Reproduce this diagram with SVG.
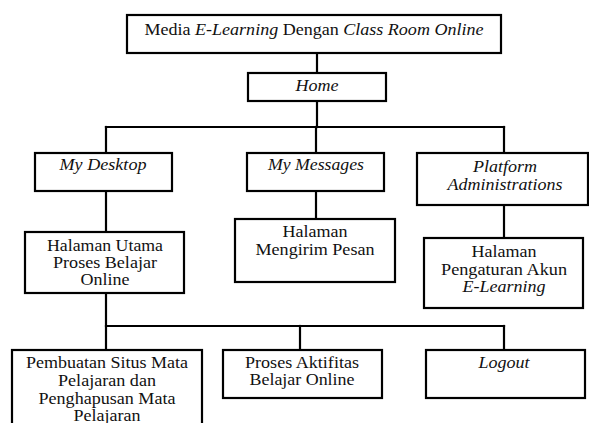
<svg xmlns="http://www.w3.org/2000/svg" width="589" height="423" viewBox="0 0 589 423">
<style>
rect.box{fill:#fff;stroke:#000;stroke-width:2.2}
.conn line{stroke:#000;stroke-width:2.2;stroke-linecap:square}
text{font-family:"Liberation Serif","Times New Roman",serif;font-size:16px;fill:#111;text-anchor:middle}
.i{font-style:italic}
</style>
<rect width="589" height="423" fill="#fff"/>
<g class="conn" id="connectors">
<line x1="317" y1="53" x2="317" y2="73"/>
<line x1="317" y1="101" x2="317" y2="127"/>
<line x1="106" y1="127" x2="504" y2="127"/>
<line x1="106" y1="127" x2="106" y2="153"/>
<line x1="316" y1="127" x2="316" y2="153"/>
<line x1="504" y1="127" x2="504" y2="153"/>
<line x1="106" y1="191" x2="106" y2="232"/>
<line x1="316" y1="191" x2="316" y2="219"/>
<line x1="504" y1="205" x2="504" y2="238"/>
<line x1="106" y1="293" x2="106" y2="350"/>
<line x1="106" y1="326" x2="504" y2="326"/>
<line x1="300" y1="326" x2="300" y2="350"/>
<line x1="504" y1="326" x2="504" y2="350"/>
</g>
<g id="title">
<rect class="box" x="127" y="15" width="374" height="38"/>
<text x="314" y="35" textLength="339" lengthAdjust="spacingAndGlyphs">Media <tspan class="i">E-Learning</tspan> Dengan <tspan class="i">Class Room Online</tspan></text>
</g>
<g id="home">
<rect class="box" x="248" y="73" width="138" height="28"/>
<text class="i" x="317" y="91" textLength="43" lengthAdjust="spacingAndGlyphs">Home</text>
</g>
<g id="my-desktop">
<rect class="box" x="35" y="153" width="137" height="38"/>
<text class="i" x="103" y="170" textLength="87" lengthAdjust="spacingAndGlyphs">My Desktop</text>
</g>
<g id="my-messages">
<rect class="box" x="247" y="153" width="137" height="38"/>
<text class="i" x="316" y="170" textLength="96" lengthAdjust="spacingAndGlyphs">My Messages</text>
</g>
<g id="platform">
<rect class="box" x="417" y="153" width="171" height="52"/>
<text class="i" x="505" y="172" textLength="64" lengthAdjust="spacingAndGlyphs">Platform</text>
<text class="i" x="505" y="190" textLength="115" lengthAdjust="spacingAndGlyphs">Administrations</text>
</g>
<g id="halaman-utama">
<rect class="box" x="25" y="232" width="159" height="61"/>
<text x="105" y="251" textLength="116" lengthAdjust="spacingAndGlyphs">Halaman Utama</text>
<text x="105" y="268" textLength="104" lengthAdjust="spacingAndGlyphs">Proses Belajar</text>
<text x="105" y="285" textLength="49" lengthAdjust="spacingAndGlyphs">Online</text>
</g>
<g id="halaman-mengirim">
<rect class="box" x="235" y="219" width="160" height="63"/>
<text x="315" y="237" textLength="65" lengthAdjust="spacingAndGlyphs">Halaman</text>
<text x="315" y="255" textLength="119" lengthAdjust="spacingAndGlyphs">Mengirim Pesan</text>
</g>
<g id="halaman-pengaturan">
<rect class="box" x="424" y="238" width="159" height="70"/>
<text x="504" y="257" textLength="65" lengthAdjust="spacingAndGlyphs">Halaman</text>
<text x="504" y="275" textLength="126" lengthAdjust="spacingAndGlyphs">Pengaturan Akun</text>
<text class="i" x="504" y="292" textLength="83" lengthAdjust="spacingAndGlyphs">E-Learning</text>
</g>
<g id="pembuatan">
<rect class="box" x="12" y="350" width="190" height="85"/>
<text x="107" y="368" textLength="162" lengthAdjust="spacingAndGlyphs">Pembuatan Situs Mata</text>
<text x="107" y="386" textLength="98" lengthAdjust="spacingAndGlyphs">Pelajaran dan</text>
<text x="107" y="404" textLength="137" lengthAdjust="spacingAndGlyphs">Penghapusan Mata</text>
<text x="107" y="421" textLength="67" lengthAdjust="spacingAndGlyphs">Pelajaran</text>
</g>
<g id="proses-aktifitas">
<rect class="box" x="223" y="350" width="159" height="48"/>
<text x="302" y="368" textLength="114" lengthAdjust="spacingAndGlyphs">Proses Aktifitas</text>
<text x="302" y="385" textLength="105" lengthAdjust="spacingAndGlyphs">Belajar Online</text>
</g>
<g id="logout">
<rect class="box" x="426" y="350" width="159" height="48"/>
<text class="i" x="504" y="368" textLength="51" lengthAdjust="spacingAndGlyphs">Logout</text>
</g>
</svg>
